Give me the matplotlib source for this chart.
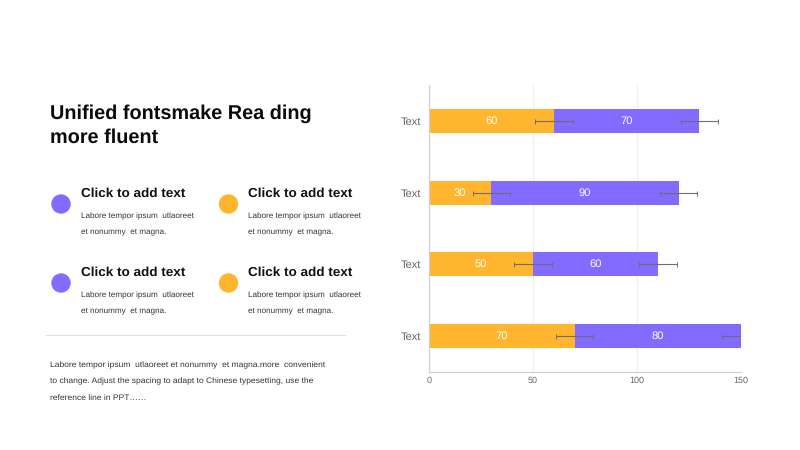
import matplotlib
matplotlib.use("Agg")
import matplotlib.pyplot as plt
from matplotlib.patches import Circle
from matplotlib.lines import Line2D

plt.rcParams['font.family'] = ['Liberation Sans', 'DejaVu Sans']
plt.rcParams['text.hinting'] = 'no_hinting'
plt.rcParams['text.hinting_factor'] = 8

categories = ["Text", "Text", "Text", "Text"]
orange_values = [60, 30, 50, 70]
purple_values = [70, 90, 60, 80]
error_size = [9, 9, 9, 9]
x_ticks = [0, 50, 100, 150]

ORANGE = "#FFB52E"
PURPLE = "#836BFF"
TITLE = "Unified fontsmake Rea ding\nmore fluent"
HEAD = "Click to add text"
BODY = ["Labore tempor ipsum  utlaoreet", "et nonummy  et magna."]
FOOT = ["Labore tempor ipsum  utlaoreet et nonummy  et magna.more  convenient",
        "to change. Adjust the spacing to adapt to Chinese typesetting, use the",
        "reference line in PPT……"]

W, H = 800, 450
fig = plt.figure(figsize=(8, 4.5), dpi=100, facecolor="white")

bg = fig.add_axes([0, 0, 1, 1])
bg.set_xlim(0, W)
bg.set_ylim(H, 0)
bg.axis("off")

bg.text(49.5, 125.5, TITLE, fontsize=14.3, fontweight="bold", color="#0a0a0a",
        va="center", ha="left", linespacing=1.41)

blocks = [(61, 81, 204, PURPLE), (228.5, 248.5, 204, ORANGE),
          (61, 81, 283, PURPLE), (228.5, 248.5, 283, ORANGE)]
for cx, tx, cy, col in blocks:
    bg.add_patch(Circle((cx, cy), 9.7, color=col, lw=0))
    bg.text(tx, cy - 10, HEAD, fontsize=9.7, fontweight="bold", color="#111111",
            va="center", ha="left")
    bg.text(tx, cy + 12, BODY[0], fontsize=5.82, color="#333333", va="center", ha="left")
    bg.text(tx, cy + 27, BODY[1], fontsize=5.82, color="#333333", va="center", ha="left")

bg.add_line(Line2D([46, 345], [335, 335], color="#e0e0e0", lw=0.8))
for y, line in zip([365.5, 381.5, 397.5], FOOT):
    bg.text(49.5, y, line, fontsize=6.12, color="#333333", va="center", ha="left")

ax = fig.add_axes([429 / W, 1 - 372 / H, (741 - 429) / W, (372 - 85) / H])
ax.patch.set_alpha(0)
pos = list(range(len(categories)))
bar_h = 24 / 71.7
ax.barh(pos, orange_values, height=bar_h, color=ORANGE, zorder=2)
ax.barh(pos, purple_values, left=orange_values, height=bar_h, color=PURPLE, zorder=2)

totals = [a + b for a, b in zip(orange_values, purple_values)]
for centers in (orange_values, totals):
    ax.errorbar(centers, pos, xerr=error_size, fmt="none", ecolor="#6e6e6e",
                elinewidth=0.8, capsize=1.8, capthick=0.7, zorder=3)

for p, a, b in zip(pos, orange_values, purple_values):
    ax.text(a / 2, p, str(a), color="#ffffff", fontsize=8, ha="center", va="center", zorder=4)
    ax.text(a + b / 2, p, str(b), color="#ffffff", fontsize=8, ha="center", va="center", zorder=4)

ax.set_xlim(0, 150)
ax.set_ylim(3.5, -0.5)
ax.set_yticks(pos)
ax.set_yticklabels(categories, fontsize=8, color="#666666")
ax.set_xticks(x_ticks)
ax.set_xticklabels([str(v) for v in x_ticks], fontsize=6.5, color="#666666")
ax.tick_params(length=0)
ax.tick_params(axis="y", pad=6)
ax.tick_params(axis="x", pad=3.5)
ax.grid(axis="x", color="#efefef", lw=0.8, zorder=0)
ax.set_axisbelow(True)
for s in ["top", "right"]:
    ax.spines[s].set_visible(False)
for s in ["left", "bottom"]:
    ax.spines[s].set_color("#d0d0d0")
    ax.spines[s].set_linewidth(0.9)

fig.savefig("out.png", dpi=100)
